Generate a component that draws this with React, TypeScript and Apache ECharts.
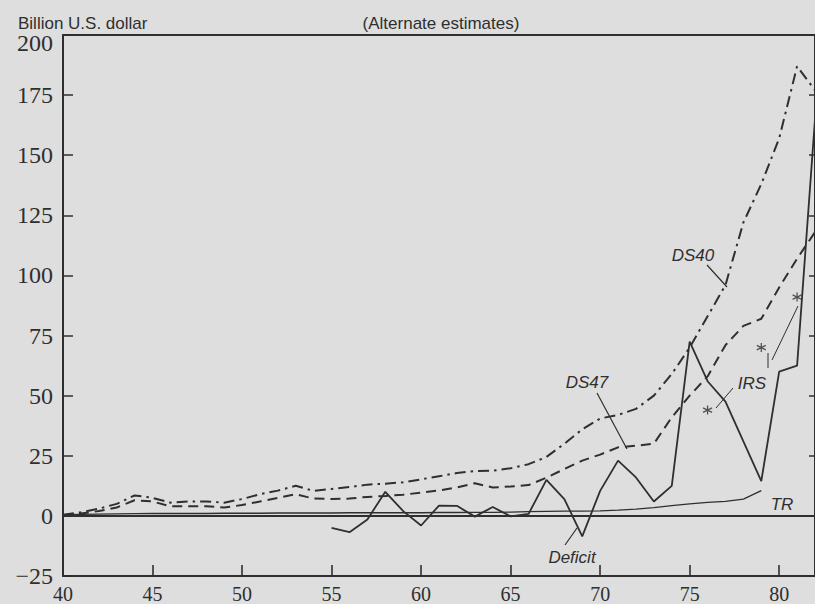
import React, { useEffect, useRef } from "react";
import * as echarts from "echarts";

// Years 40..82
const years = [40, 41, 42, 43, 44, 45, 46, 47, 48, 49, 50, 51, 52, 53, 54, 55, 56, 57, 58, 59, 60, 61, 62, 63, 64, 65, 66, 67, 68, 69, 70, 71, 72, 73, 74, 75, 76, 77, 78, 79, 80, 81, 82];
const ds40 = [0.5, 1.5, 3, 5, 8.5, 7.5, 5.5, 6, 6, 5.5, 7, 9, 10.5, 12.5, 10.4, 11.2, 12, 13, 13.4, 14, 15.2, 16.5, 17.8, 18.7, 18.8, 19.8, 21.5, 24.5, 30, 36, 40.5, 42, 44.5, 50, 59, 70, 83, 96, 122, 138, 157, 187, 177];
const ds47 = [0, 1, 2, 3.5, 6.5, 6, 4, 4, 4, 3.5, 4.5, 6, 7.5, 9, 7.2, 7, 7.2, 7.9, 8.3, 8.8, 9.7, 10.6, 11.8, 13.6, 11.8, 12.2, 12.8, 15.9, 19.5, 23, 25.5, 28.5, 29.2, 30, 41, 50, 58, 71, 79, 82, 95, 107, 118];
const deficitYears = [55, 56, 57, 58, 59, 60, 61, 62, 63, 64, 65, 66, 67, 68, 69, 70, 71, 72, 73, 74, 75, 76, 77, 78, 79, 80, 81, 82];
const deficit = [-5, -6.8, -1.5, 10, 2, -4, 4.3, 4.2, -0.3, 3.7, -0.2, 0.8, 15, 7, -8.5, 10.4, 23, 16, 6, 12.5, 72.5, 56, 47.5, 31, 14.5, 60, 62.5, 165];
const trYears = [40, 41, 42, 43, 44, 45, 46, 47, 48, 49, 50, 51, 52, 53, 54, 55, 56, 57, 58, 59, 60, 61, 62, 63, 64, 65, 66, 67, 68, 69, 70, 71, 72, 73, 74, 75, 76, 77, 78, 79];
const tr = [0.5, 0.6, 0.7, 0.8, 0.9, 1, 1, 1, 1, 1.1, 1.1, 1.1, 1.2, 1.2, 1.2, 1.2, 1.3, 1.3, 1.3, 1.3, 1.3, 1.4, 1.4, 1.5, 1.5, 1.6, 1.8, 1.9, 2, 2, 2.1, 2.4, 2.8, 3.4, 4.3, 5, 5.6, 6, 7, 10.5];
const irsYears = [76, 79, 81];
const irs = [44, 70, 91];

const INK = "#2f2f2f";
const BG = "#dedede";
const SERIF = "'Liberation Serif', 'Times New Roman', serif";
const SANS = "'Liberation Sans', Arial, sans-serif";

const pairs = (xs: number[], ys: number[]) => xs.map((x, i) => [x, ys[i]]);

export default function App() {
  const ref = useRef<HTMLDivElement>(null);
  useEffect(() => {
    document.body.style.margin = "0";
    document.body.style.background = BG;
    if (!ref.current) return;
    const chart = echarts.init(ref.current, null, { renderer: "svg" });
    const label = (text: string, x: number, y: number) => ({
      type: "text",
      x,
      y,
      style: {
        text,
        fill: INK,
        font: `italic 17px ${SANS}`,
        textAlign: "center",
        textVerticalAlign: "middle",
      },
    });
    const leader = (x1: number, y1: number, x2: number, y2: number, w = 1.2) => ({
      type: "line",
      shape: { x1, y1, x2, y2 },
      style: { stroke: INK, lineWidth: w },
    });
    chart.setOption({
      animation: false,
      backgroundColor: BG,
      grid: { left: 63, top: 35, width: 756, height: 544, containLabel: false },
      xAxis: [
        {
          type: "value",
          min: 40,
          max: 82,
          interval: 5,
          axisLine: { show: true, onZero: false, lineStyle: { color: INK, width: 2 } },
          axisTick: { show: true, inside: true, length: 11, lineStyle: { color: INK, width: 1.6 } },
          axisLabel: {
            color: INK,
            fontFamily: SERIF,
            fontSize: 20,
            margin: 8,
            showMaxLabel: false,
          },
          splitLine: { show: false },
        },
        {
          type: "value",
          position: "top",
          min: 40,
          max: 82,
          axisLine: { show: true, onZero: false, lineStyle: { color: INK, width: 2 } },
          axisTick: { show: false },
          axisLabel: { show: false },
          splitLine: { show: false },
        },
      ],
      yAxis: [
        {
          type: "value",
          min: -25,
          max: 200,
          interval: 25,
          axisLine: { show: true, onZero: false, lineStyle: { color: INK, width: 2 } },
          axisTick: { show: true, inside: true, length: 10, lineStyle: { color: INK, width: 1.5 } },
          axisLabel: {
            color: INK,
            fontFamily: SERIF,
            fontSize: 24,
            margin: 10,
            formatter: (v: number) =>
              v === 200 ? "{top|200}" : v < 0 ? "\u2212" + Math.abs(v) : String(v),
            rich: {
              top: { fontFamily: SERIF, fontSize: 24, color: INK, padding: [16, 0, 0, 0] },
            },
          },
          splitLine: { show: false },
        },
        {
          type: "value",
          position: "right",
          min: -25,
          max: 200,
          interval: 25,
          axisLine: { show: true, onZero: false, lineStyle: { color: INK, width: 2 } },
          axisTick: { show: true, inside: true, length: 6, lineStyle: { color: INK, width: 1.5 } },
          axisLabel: { show: false },
          splitLine: { show: false },
        },
      ],
      series: [
        {
          name: "TR",
          type: "line",
          data: pairs(trYears, tr),
          symbol: "none",
          lineStyle: { color: INK, width: 1.3 },
          markLine: {
            silent: true,
            symbol: "none",
            label: { show: false },
            lineStyle: { color: INK, width: 1.8, type: "solid" },
            data: [{ yAxis: 0 }],
          },
        },
        {
          name: "DS40",
          type: "line",
          data: pairs(years, ds40),
          symbol: "none",
          lineStyle: { color: INK, width: 2, type: [11, 5, 2.5, 5] },
        },
        {
          name: "DS47",
          type: "line",
          data: pairs(years, ds47),
          symbol: "none",
          lineStyle: { color: INK, width: 2, type: [10, 6] },
        },
        {
          name: "Deficit",
          type: "line",
          data: pairs(deficitYears, deficit),
          symbol: "none",
          lineStyle: { color: INK, width: 1.8 },
        },
        {
          name: "IRS",
          type: "scatter",
          data: pairs(irsYears, irs),
          symbol: "path://M5,0 L5,10 M0.7,2.5 L9.3,7.5 M0.7,7.5 L9.3,2.5",
          symbolSize: 9,
          itemStyle: { color: "none", borderColor: INK, borderWidth: 1.3 },
        },
      ],
      graphic: [
        {
          type: "text",
          x: 18,
          y: 23,
          style: {
            text: "Billion U.S. dollar",
            fill: INK,
            font: `17px ${SANS}`,
            textAlign: "left",
            textVerticalAlign: "middle",
          },
        },
        {
          type: "text",
          x: 441,
          y: 23,
          style: {
            text: "(Alternate estimates)",
            fill: INK,
            font: `17px ${SANS}`,
            textAlign: "center",
            textVerticalAlign: "middle",
          },
        },
        label("DS40", 693, 255),
        label("DS47", 587, 382),
        label("IRS", 752, 383),
        label("TR", 782, 504),
        label("Deficit", 572, 557),
        leader(707, 265, 727, 287),
        leader(597, 393, 627, 449),
        leader(565, 545, 577, 528),
        leader(733, 388, 716, 408, 1),
        leader(768, 353, 768, 368, 1),
        leader(772, 360, 798, 306, 1),
      ],
    });
    return () => chart.dispose();
  }, []);
  return <div ref={ref} style={{ width: 815, height: 604, background: BG }} />;
}
